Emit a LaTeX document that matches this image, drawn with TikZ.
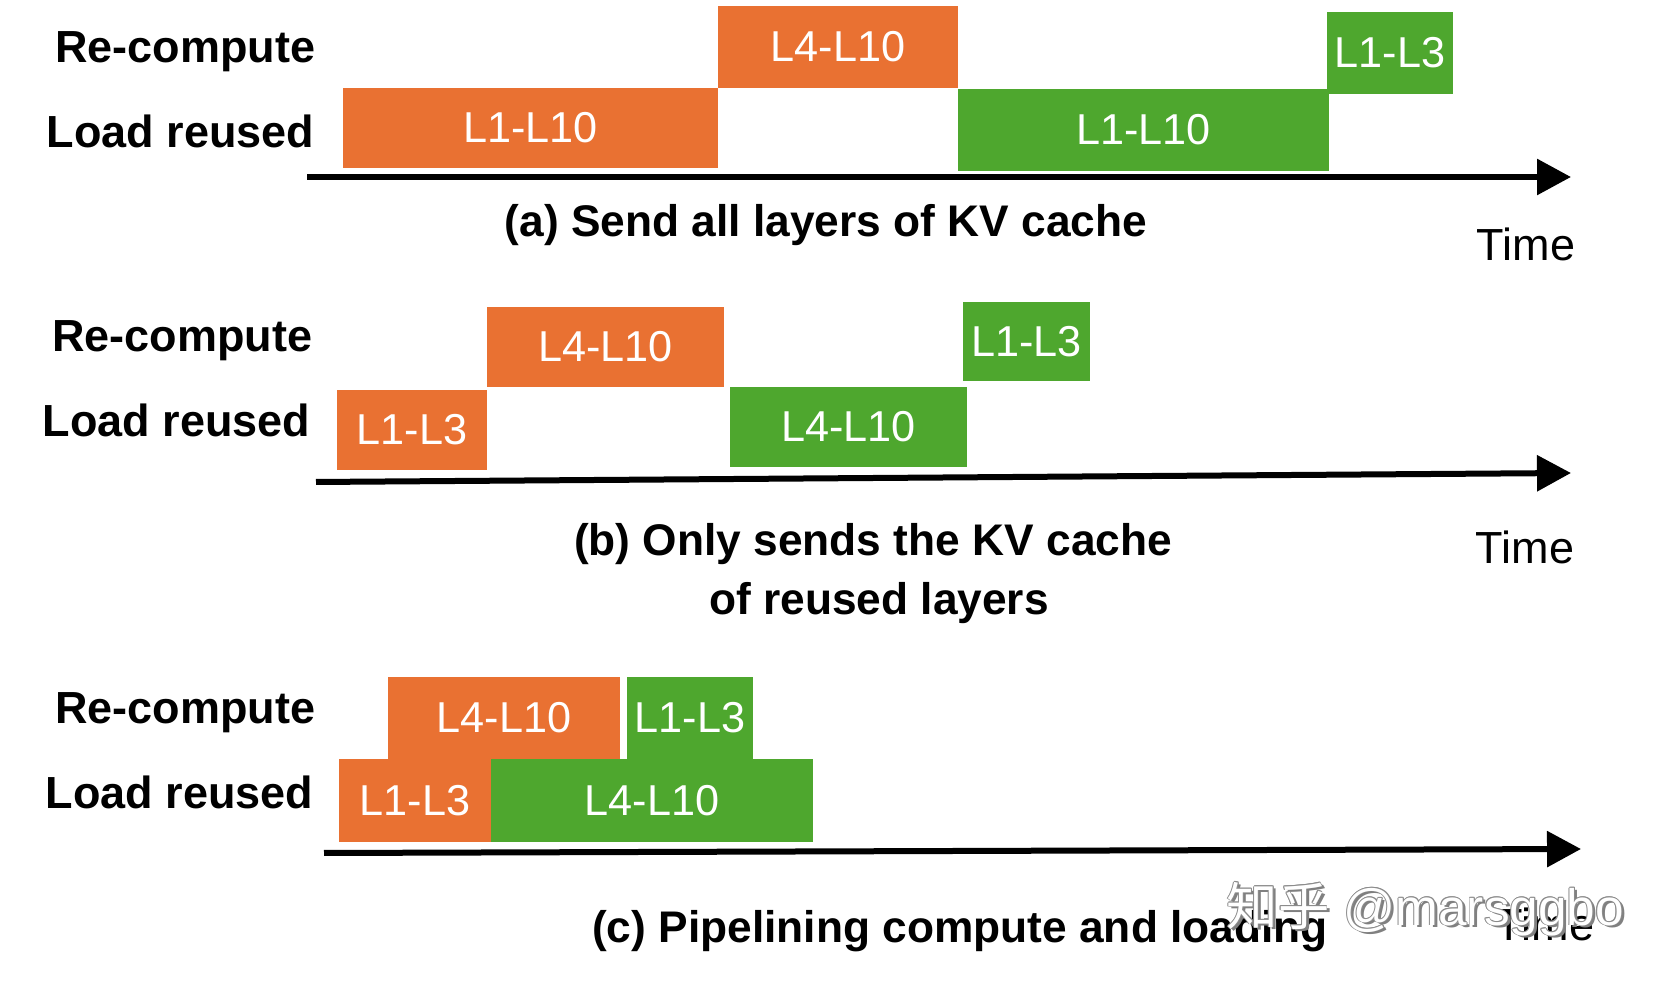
\documentclass[tikz,border=0pt]{standalone}
\usepackage{fontspec}
\setmainfont{Liberation Sans}
\newfontfamily\cjkfont{Noto Sans CJK SC}
\usetikzlibrary{arrows.meta}
\definecolor{kvorange}{RGB}{233,113,50}
\definecolor{kvgreen}{RGB}{78,167,46}
\tikzset{
	rowlbl/.style={font=\fontsize{12.8}{15}\selectfont\bfseries, anchor=base east, inner sep=0pt},
	blktxt/.style={text=white, font=\fontsize{12.3}{14}\selectfont, inner sep=0pt},
	captxt/.style={font=\fontsize{12.6}{15}\selectfont\bfseries, anchor=base, inner sep=0pt},
	timetxt/.style={font=\fontsize{12.8}{15}\selectfont, anchor=base, inner sep=0pt},
	timeaxis/.style={line width=0.6mm, -{Triangle[length=3.4mm,width=3.5mm]}},
	wmark/.style={font=\fontsize{14.6}{16}\selectfont, anchor=base west, inner sep=0pt}
}
\def\layerblk[#1](#2,#3)(#4,#5)#6#7{\fill[#1] (#2,#3) rectangle (#4,#5); \node[blktxt] (#6) at ({(#2+#4)/2},{(#3+#5)/2}) {#7};}

\begin{document}
\begin{tikzpicture}[x=0.1mm, y=-0.1mm]
		%%%%% START %%%%%
		\useasboundingbox (0,0) rectangle (1661,987);
		
		% (a) all layers
		\node[rowlbl] (a-rc) at (316,63) {Re-compute};
		\node[rowlbl] (a-ld) at (315,148) {Load reused};
		\layerblk[kvorange](718,6)(958,88){a-rc1}{L4-L10}
		\layerblk[kvorange](343,88)(718,168){a-ld1}{L1-L10}
		\layerblk[kvgreen](958,89)(1329,171){a-ld2}{L1-L10}
		\layerblk[kvgreen](1327,12)(1453,94){a-rc2}{L1-L3}
		\coordinate (a-t0) at (307,177);
		\coordinate (a-t1) at (1571,177);
		\draw[timeaxis] (a-t0) -- (a-t1);
		\node[captxt] (a-cap) at (826,237) {(a) Send all layers of KV cache};
		\node[timetxt] (a-time) at (1526,261) {Time};
		
		% (b) reused layers only
		\node[rowlbl] (b-rc) at (313,352) {Re-compute};
		\node[rowlbl] (b-ld) at (311,437) {Load reused};
		\layerblk[kvorange](487,307)(724,387){b-rc1}{L4-L10}
		\layerblk[kvorange](337,390)(487,470){b-ld1}{L1-L3}
		\layerblk[kvgreen](730,387)(967,467){b-ld2}{L4-L10}
		\layerblk[kvgreen](963,302)(1090,381){b-rc2}{L1-L3}
		\coordinate (b-t0) at (316,482);
		\coordinate (b-t1) at (1571,473);
		\draw[timeaxis] (b-t0) -- (b-t1);
		\node[captxt] (b-cap) at (873,556) {(b) Only sends the KV cache};
		\node[captxt] (b-cap2) at (879,615) {of reused layers};
		\node[timetxt] (b-time) at (1525,564) {Time};
		
		% (c) pipelined
		\node[rowlbl] (c-rc) at (316,724) {Re-compute};
		\node[rowlbl] (c-ld) at (314,808) {Load reused};
		\layerblk[kvorange](388,677)(620,759){c-rc1}{L4-L10}
		\layerblk[kvgreen](627,677)(753,759){c-rc2}{L1-L3}
		\layerblk[kvorange](339,759)(491,842){c-ld1}{L1-L3}
		\layerblk[kvgreen](491,759)(813,842){c-ld2}{L4-L10}
		\coordinate (c-t0) at (324,853);
		\coordinate (c-t1) at (1581,849);
		\draw[timeaxis] (c-t0) -- (c-t1);
		\node[captxt] (c-cap) at (960,943) {(c) Pipelining compute and loading};
		\node[timetxt] (c-time) at (1545,940) {Time};
		
		% watermark
		\node[wmark, text=black!50] (wm-sh) at (1229,928) {{\cjkfont 知乎}\ @marsggbo};
		\foreach \a in {0,45,...,315}
			\node[wmark, text=black!45, shift={(\a:0.08mm)}] (wm-\a) at (1226,925) {{\cjkfont 知乎}\ @marsggbo};
		\node[wmark, text=white] (wm) at (1226,925) {{\cjkfont 知乎}\ @marsggbo};
		
		%%%%% END %%%%%
\end{tikzpicture}
\end{document}
